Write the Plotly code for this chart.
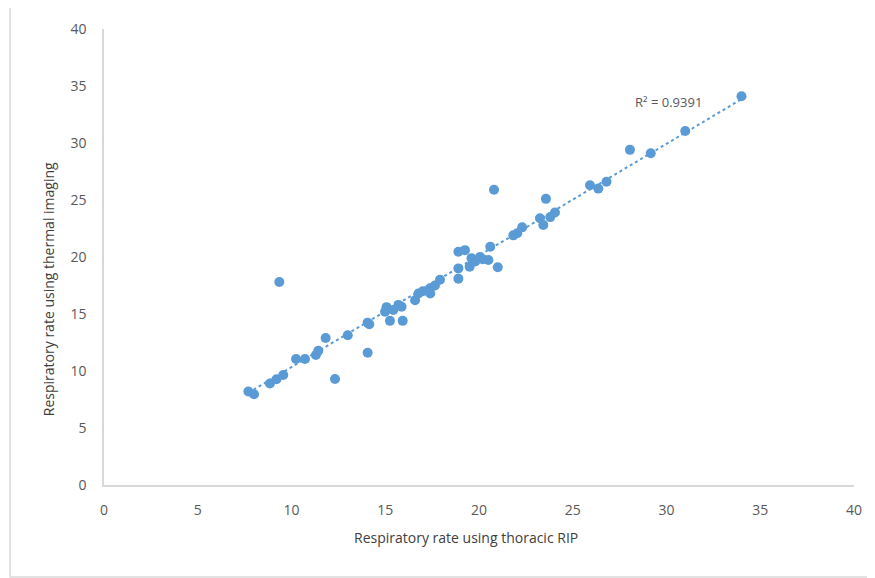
import numpy as np
import plotly.graph_objects as go

# Respiratory rate using thoracic RIP (x) vs thermal imaging (y)
rip_rate = [7.7, 8.0, 8.85, 9.2, 9.56, 9.35, 10.24, 10.72, 11.3, 11.43, 11.82, 12.32,
            13.0, 14.06, 14.06, 14.15, 14.99, 15.07, 15.25, 15.43, 15.7, 15.87, 15.93,
            16.59, 16.77, 17.0, 17.39, 17.4, 17.65, 17.92, 18.9, 19.25, 18.9, 18.9,
            19.5, 19.6, 19.8, 20.05, 20.2, 20.5, 20.6, 21.0, 20.8, 21.83, 22.04, 22.3,
            23.25, 23.43, 23.57, 23.8, 24.05, 25.92, 26.36, 26.8, 28.05, 29.16, 31.0, 34.0]
thermal_rate = [8.2, 7.96, 8.9, 9.27, 9.65, 17.8, 11.05, 11.05, 11.4, 11.78, 12.9, 9.3,
                13.13, 11.6, 14.24, 14.1, 15.2, 15.6, 14.4, 15.35, 15.8, 15.64, 14.4,
                16.2, 16.8, 17.0, 17.25, 16.8, 17.5, 18.0, 20.46, 20.6, 19.0, 18.1,
                19.15, 19.9, 19.6, 20.0, 19.8, 19.74, 20.9, 19.1, 25.9, 21.9, 22.08, 22.6,
                23.4, 22.8, 25.1, 23.5, 23.9, 26.3, 26.0, 26.6, 29.4, 29.1, 31.05, 34.1]
r2_label = "R² = 0.9391"
tick_vals = [0, 5, 10, 15, 20, 25, 30, 35, 40]
x_title = "Respiratory rate using thoracic RIP"
y_title = "Respiratory rate using thermal imaging"

blue = "#5B9BD5"
xa = np.array(rip_rate)
ya = np.array(thermal_rate)
slope, intercept = np.polyfit(xa, ya, 1)
line_x = np.array([xa.min(), xa.max()])
line_y = slope * line_x + intercept

fig = go.Figure()
fig.add_trace(go.Scatter(x=line_x, y=line_y, mode="lines",
                         line=dict(color=blue, width=2, dash="dot"),
                         hoverinfo="skip", showlegend=False))
fig.add_trace(go.Scatter(x=rip_rate, y=thermal_rate, mode="markers",
                         marker=dict(color=blue, size=10, line=dict(width=0)),
                         showlegend=False))

fig.add_annotation(x=30.1, y=33.6, xref="x", yref="y", text=r2_label, showarrow=False,
                   xanchor="center", yanchor="middle",
                   font=dict(family="Open Sans", size=13, color="#595959"))
fig.add_annotation(x=0.483, y=-0.116, xref="paper", yref="paper", text=x_title,
                   showarrow=False, xanchor="center", yanchor="middle",
                   font=dict(family="Open Sans", size=14, color="#404040"))
fig.add_annotation(x=-0.073, y=0.43, xref="paper", yref="paper", text=y_title,
                   textangle=-90, showarrow=False, xanchor="center", yanchor="middle",
                   font=dict(family="Open Sans", size=14, color="#404040"))

# chart-area border
fig.add_shape(type="rect", xref="paper", yref="paper", x0=-0.1253, x1=1.2,
              y0=-0.2018, y1=1.2, line=dict(color="#d9d9d9", width=1.5),
              layer="below")

axis_common = dict(range=[0, 40], tickvals=tick_vals, showgrid=False, zeroline=False,
                   showline=True, linecolor="#d9d9d9", linewidth=1.5, ticks="",
                   tickfont=dict(family="Open Sans", size=14, color="#595959"))
fig.update_xaxes(**axis_common, ticklabelstandoff=11)
fig.update_yaxes(**axis_common, ticklabelstandoff=13)

# page body has an 8px margin, so the figure is 8px smaller and offset
fig.update_layout(width=867, height=570, margin=dict(l=96, r=21, t=21, b=93),
                  plot_bgcolor="white", paper_bgcolor="white")
fig.write_html("out.html")
